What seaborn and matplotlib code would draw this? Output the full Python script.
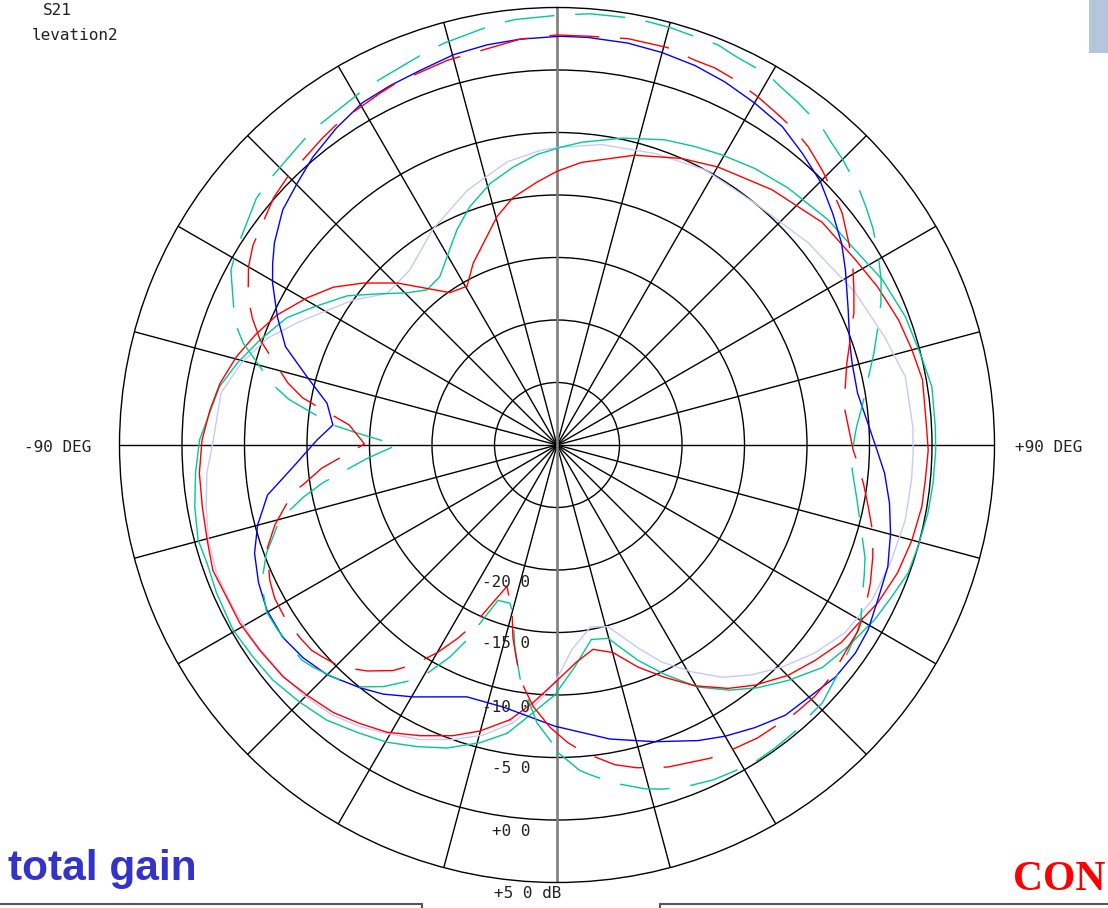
import numpy as np
import matplotlib
matplotlib.use("Agg")
import matplotlib.pyplot as plt
import pandas as pd
import seaborn as sns
from matplotlib.lines import Line2D
from matplotlib.patches import Rectangle

W, H = 1108, 908

# angle in degrees (0 = top, clockwise positive), gain in dB
blue_deg = [-168.4, -160.3, -150.3, -145.1, -141, -135, -130, -125, -119.6, -114.8,
            -109.7, -105, -99.8, -94.8, -88.8, -84.9, -79.7, -74.8, -70.1, -65.4,
            -60.3, -57.4, -54.4, -49.4, -44.8, -40.3, -34.8, -29.6, -24.9, -20.1,
            -14.9, -9.9, -5.2, 0.4, 4.3, 10, 15, 20, 24.8, 30, 35.3, 40, 45, 50,
            54.7, 58.7, 65, 70.8, 74.5, 80.2, 90.9, 94.9, 99.9, 104.8, 110.2, 115.8,
            120.7, 124.9, 129.8, 133.9, 139.8, 145, 150, 154.5, 161.7, 169.8, 180.4]
blue_db = [-8.6, -8.6, -6.8, -5.7, -5.0, -4.0, -3.5, -3.2, -3.3, -3.7,
           -4.3, -5.2, -6.5, -8.8, -10.8, -12.0, -11.3, -9.3, -6.9, -5.4,
           -3.8, -3.0, -2.2, -1.1, -0.5, 0.2, 0.9, 1.5, 1.7, 1.9,
           2.3, 2.5, 2.6, 2.7, 2.7, 2.65, 2.5, 2.3, 2.0, 1.6, 1.2, 0.5, -0.2, -1.2,
           -2.1, -3.0, -4.3, -5.2, -5.5, -5.6, -4.4, -3.7, -3.0, -2.4, -1.8, -1.5,
           -1.05, -0.9, -1.0, -1.4, -1.7, -2.4, -3.1, -3.8, -5.0, -6.1, -7.5]

red_deg = [-170.3, -164.9, -160.3, -154.8, -149.4, -144.7, -140.1, -135, -130.3, -124.6,
           -119.3, -114.7, -110, -105.2, -99.9, -94.5, -89.2, -84.2, -79.6, -74.6,
           -70, -65.1, -59.5, -54.8, -50.1, -44.6, -35.1, -29.5, -24.8, -14.7,
           -10.1, -4.3, 0, 5, 15, 23.5, 30.1, 40.1, 50, 58.2, 63.8, 69.9, 75, 79.9,
           87.2, 90.8, 95.4, 99.6, 105, 110.6, 116.2, 119.8, 124.7, 129.8, 134.9,
           140.5, 144.9, 150.2, 155.1, 160, 164.9, 170, 174.7, 180.5, 185.3]
red_db = [-7.7, -6.3, -5.3, -4.3, -3.3, -2.7, -2.1, -1.7, -1.3, -1.1,
          -0.9, -0.9, -0.7, -1.0, -1.2, -1.3, -1.6, -2.1, -2.6, -3.4,
          -4.3, -5.3, -6.8, -8.1, -9.8, -11.8, -15.1, -15.4, -14.0, -11.1,
          -9.9, -8.9, -8.1, -7.3, -6.0, -5.0, -4.3, -3.3, -2.3, -1.9, -1.4, -0.9, -0.6, -0.3,
          -0.4, -0.3, -0.4, -0.4, -0.6, -0.9, -1.4, -1.9, -2.3, -3.1, -3.9,
          -5.1, -6.2, -7.8, -9.5, -11.1, -12.8, -13.4, -12.6, -11.0, -9.3]

green_deg = [-170.2, -165.5, -160, -155.1, -150.2, -145.2, -140.1, -135, -129.6, -124.9,
             -119.7, -113.5, -108.6, -104.8, -99.7, -94.4, -89.2, -85.4, -80.2, -75.6,
             -70.5, -64.8, -60.5, -54.6, -50, -44.6, -40, -34.9, -24.9, -20.1,
             -14.3, -9, -3.9, 0.5, 4.7, 12, 19.5, 24.8, 29.6, 35.6, 42, 50.3, 56.8,
             63.1, 69.8, 76.4, 81.2, 87.3, 90.8, 95.8, 100.4, 105.8, 110, 114.4, 118.8,
             124.8, 130, 135.5, 140.4, 144.8, 149.8, 154.8, 159.4, 165.2, 170, 175.4,
             180.5, 185.1]
green_db = [-6.6, -5.4, -4.2, -3.4, -2.6, -2.0, -1.3, -0.9, -0.5, -0.35,
            -0.16, -0.3, -0.45, -0.3, -0.6, -1.0, -1.4, -2.0, -2.6, -3.6,
            -4.8, -6.1, -7.6, -9.4, -11.2, -12.9, -13.8, -13.6, -11.0, -9.7,
            -8.4, -7.5, -6.7, -6.2, -5.7, -4.9, -4.1, -3.7, -3.3, -2.8, -2.35, -1.8, -1.5,
            -0.8, -0.3, 0.0, 0.35, 0.3, 0.3, 0.24, 0.17, 0.0, -0.1, -0.6, -1.0,
            -1.7, -2.3, -3.6, -4.8, -6.0, -7.6, -9.7, -11.6, -14.0, -14.2, -12.2,
            -10.0, -8.5]

lav_deg = [-171, -165.7, -160.5, -155, -149.4, -145, -140.3, -134.5, -128.8, -122.7,
           -116.6, -110.6, -105.2, -100, -94.6, -89.2, -81.2, -75.5, -69.8, -64.6,
           -59.6, -54.6, -48.2, -40, -30, -19.4, -10, -3.3, 0, 8.5, 18.6, 28.3,
           39.3, 51.2, 63, 71.8, 78.9, 87.1, 90.8, 95.6, 102.2, 109, 116.2, 123.1,
           128.9, 134.6, 139.7, 144.6, 149.3, 154.2, 158.2, 164.3, 169.6, 175.8,
           180.5, 184.4]
lav_db = [-7.5, -6.05, -5.0, -4.0, -3.2, -2.5, -1.9, -1.5, -1.3, -1.1,
          -1.0, -0.9, -1.1, -1.5, -1.9, -2.5, -2.8, -3.9, -5.3, -7.1,
          -8.7, -10.0, -11.8, -11.7, -10.1, -8.4, -7.0, -6.4, -6.2, -5.7, -5.4, -5.0,
          -5.0, -4.2, -3.2, -2.4, -1.6, -1.5, -1.5, -1.5, -1.5, -1.7, -1.9, -2.5,
          -3.5, -4.7, -5.9, -7.2, -8.9, -10.7, -12.5, -14.9, -15.2, -13.6,
          -11.0, -9.3]

red_dash_deg = [-178.6, -174.8, -171.9, -169.6, -167.1, -164.9, -160.5, -155.3, -152.8, -150,
                -146.8, -144, -140, -135.7, -132, -129.9, -126.8, -122.5, -118.5, -115.2,
                -109.6, -105.8, -100.3, -98.6, -95.6, -89.7, -84.5, -79.5, -77, -70.5,
                -67.4, -64.4, -60, -56.7, -48.8, -45.2, -37.4, -34.2, -26.7, -23.8,
                -15.9, -5.2, 0, 4.3, 9.9, 15.5, 19.7, 22.7, 26, 30, 33.2, 36.6, 40.1,
                44, 47.5, 50.9, 54.8, 58.3, 62.4, 66, 69.9, 74.2, 78.8, 83.1, 91, 92.9,
                97.1, 101.3, 105.6, 109.5, 113.8, 118.2, 121.6, 125.8, 129.8, 134.3,
                138.4, 141.7, 145.6, 150.2, 153.9, 157.6, 161, 166.1, 169.7, 174.8, 178]
red_dash_db = [-7.4, -9.0, -10.6, -12.3, -14.2, -16.2, -18.0, -14.3, -12.6, -10.8,
               -9.0, -7.7, -6.4, -5.2, -4.7, -4.4, -4.3, -4.2, -4.3, -4.6,
               -5.4, -6.55, -8.5, -9.6, -11.1, -14.6, -13.3, -9.3, -7.9, -4.8,
               -3.6, -2.6, -1.5, -0.9, 0.1, 0.4, 0.9, 1.15, 1.5, 1.7,
               2.0, 2.6, 2.8, 2.8, 3.0, 3.0, 2.7, 2.7, 2.5, 2.15, 1.85, 1.6, 1.2,
               0.55, -0.05, -0.6, -1.5, -2.2, -3.2, -4.0, -5.0, -5.9, -6.5, -6.8, -6.3, -6.0,
               -5.3, -4.6, -3.76, -3.2, -2.6, -2.05, -1.7, -1.6, -1.3, -1.2,
               -1.3, -1.5, -1.6, -1.9, -2.1, -2.5, -2.75, -3.4, -4.0, -5.25, -6.2]

green_dash_deg = [-179, -175.9, -171, -168.3, -165.3, -163.4, -159.2, -155.2, -153.2, -149.8,
                  -147.6, -144.3, -139.9, -132.3, -130.1, -123.6, -119.9, -115.1, -110.4, -108,
                  -105.1, -101.6, -99.2, -94, -90, -86.6, -84.9, -80.3, -77.9, -72,
                  -69.1, -61.8, -58.4, -50.7, -47.4, -39.9, -36.6, -29.2, -26, -18.7,
                  -15.6, -8.7, -5.6, 0.4, 4.4, 10.4, 15.1, 21.9, 25, 29.7, 31.8, 35.1,
                  39.8, 42, 45.1, 50.1, 52.4, 55.5, 59.1, 63, 66.3, 69.8, 73.8, 77.7,
                  82.2, 86.6, 91.6, 94.8, 100.4, 104.7, 110.1, 113, 116.6, 119.5, 122,
                  129.3, 134.2, 136.4, 139.9, 144.3, 148, 151.4, 155, 159.5, 162.9, 165.6,
                  170.6, 174.3, 176, 180.4]
green_dash_db = [-6.2, -7.7, -11.1, -13.4, -16.1, -16.8, -16.7, -12.8, -11.0, -8.5,
                 -7.6, -6.2, -4.7, -3.6, -3.3, -3.2, -3.2, -3.9, -5.2, -6.1,
                 -7.0, -9.3, -11.0, -14.8, -17.2, -14.0, -12.0, -8.2, -6.7, -3.6,
                 -2.4, -0.4, 0.06, 1.1, 1.3, 1.7, 1.9, 2.3, 2.5, 3.1,
                 3.4, 4.0, 4.2, 4.4, 4.6, 4.7, 4.6, 4.5, 4.2, 4.1, 3.8, 3.5,
                 3.1, 2.7, 2.3, 1.6, 1.2, 0.66, -0.07, -0.9, -1.7, -2.64, -3.6, -4.5,
                 -5.3, -6.0, -6.4, -6.3, -5.6, -4.9, -3.76, -3.3, -2.7, -2.05, -1.7,
                 -1.0, -0.4, -0.4, -0.2, -0.14, -0.1, -0.3, -0.44, -0.8, -1.2, -1.6,
                 -2.6, -3.5, -3.9, -5.6]

ring_labels = ["-20 0", "-15 0", "-10 0", "-5 0", "+0 0"]
ring_label_y = [587, 648, 712, 773, 836]

sns.set_theme(style="white")
plt.rcParams["font.family"] = ["DejaVu Sans Mono", "DejaVu Sans"]

fig = plt.figure(figsize=(W / 100, H / 100), dpi=100)
fig.patch.set_facecolor("white")


def px(x, y):
    return x / W, 1 - y / H


cx, cy, R = 557, 445, 437.5
ax = fig.add_axes([(cx - R) / W, (H - cy - R) / H, 2 * R / W, 2 * R / H],
                  projection="polar")
ax.set_facecolor("white")
ax.set_theta_zero_location("N")
ax.set_theta_direction(-1)

# grey 0/180 axis
ax.plot([0, 0], [-30, 5], color="#808080", lw=1.8, zorder=1.5)
ax.plot([np.pi, np.pi], [-30, 5], color="#808080", lw=1.8, zorder=1.5)

series = [
    (lav_deg, lav_db, "#c8c8ff", None),
    (green_deg, green_db, "#00c896", None),
    (red_deg, red_db, "#ff0000", None),
    (blue_deg, blue_db, "#0000ff", None),
    (green_dash_deg, green_dash_db, "#00c896", (36, 15)),
    (red_dash_deg, red_dash_db, "#ff0000", (36, 15)),
]
for deg, db, color, dash in series:
    deg = list(deg) + [deg[0] + 360]
    db = list(db) + [db[0]]
    df = pd.DataFrame({"theta": np.deg2rad(deg), "gain": db})
    sns.lineplot(data=df, x="theta", y="gain", ax=ax, color=color, lw=1.0,
                 sort=False, estimator=None, legend=False, zorder=3)
    if dash:
        ax.lines[-1].set_dashes(dash)

ax.set_xlabel("")
ax.set_ylabel("")
ax.set_ylim(-30, 5)
ax.set_xticks(np.deg2rad(np.arange(0, 360, 15)))
ax.set_yticks(np.arange(-25, 5, 5))
ax.set_xticklabels([])
ax.set_yticklabels([])
ax.grid(True, color="black", linewidth=1.0)
ax.spines["polar"].set_color("black")
ax.spines["polar"].set_linewidth(1.0)
ax.tick_params(length=0)

# plotter labels
lab = dict(fontsize=11.5, color="#222222", family=["DejaVu Sans Mono", "DejaVu Sans"])
fig.text(*px(57, 15), "S21", ha="center", va="baseline", **lab)
fig.text(*px(75, 40), "levation2", ha="center", va="baseline", **lab)
fig.text(*px(58, 452), "-90 DEG", ha="center", va="baseline", **lab)
fig.text(*px(1049, 452), "+90 DEG", ha="center", va="baseline", **lab)
for txt, y in zip(ring_labels, ring_label_y):
    fig.text(*px(530, y), txt, ha="right", va="baseline", **lab)
fig.text(*px(561, 898), "+5 0 dB", ha="right", va="baseline", **lab)

fig.text(*px(8, 880), "total gain", ha="left", va="baseline", fontsize=30.5,
         fontweight="bold", color="#3333cc", family=["Liberation Sans", "DejaVu Sans"])
fig.text(*px(1105, 890), "CON", ha="right", va="baseline", fontsize=30,
         fontweight="bold", color="#ff0000", family=["Liberation Serif", "DejaVu Serif"])

# page decorations
fig.add_artist(Rectangle(px(1089, 53), 19 / W, 53 / H, transform=fig.transFigure,
                         facecolor="#b4c6dc", edgecolor="none"))
yb = 1 - 904 / H
for xs, ys in [([0, 422 / W], [yb, yb]), ([422 / W, 422 / W], [yb, 0]),
               ([660 / W, 1], [yb, yb]), ([660 / W, 660 / W], [yb, 0])]:
    fig.add_artist(Line2D(xs, ys, transform=fig.transFigure, color="#555555", lw=1.5))

fig.savefig("out.png", dpi=100, facecolor="white")
